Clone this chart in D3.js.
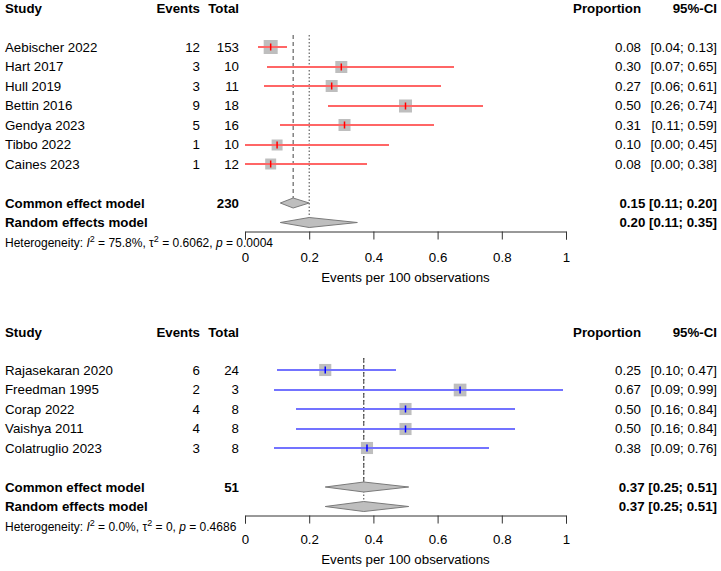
<!DOCTYPE html>
<html lang="en">
<head>
  <meta charset="UTF-8" />
  <title>Forest plots</title>
  <script src="https://d3js.org/d3.v7.min.js"></script>
  <style>
    html, body { margin: 0; padding: 0; background: #fff; }
    svg { display: block; font-family: "Liberation Sans", Arial, sans-serif; }
    .bold { font-weight: bold; }
    .axis text { font-size: 13.3px; fill: #000; font-family: "Liberation Sans", Arial, sans-serif; }
    .axis path, .axis line { stroke: #333; }
  </style>
</head>
<body>
  <svg id="chart" width="721" height="571"></svg>

  <script>
    // ---- top panel data ----
    const topStudies = ['Aebischer 2022', 'Hart 2017', 'Hull 2019', 'Bettin 2016', 'Gendya 2023', 'Tibbo 2022', 'Caines 2023'];
    const topEvents  = [12, 3, 3, 9, 5, 1, 1];
    const topTotals  = [153, 10, 11, 18, 16, 10, 12];
    const topProp    = [0.08, 0.30, 0.27, 0.50, 0.31, 0.10, 0.08];
    const topLower   = [0.04, 0.07, 0.06, 0.26, 0.11, 0.00, 0.00];
    const topUpper   = [0.13, 0.65, 0.61, 0.74, 0.59, 0.45, 0.38];
    const topWeights = [18.9, 13.9, 13.9, 16.3, 13.9, 11.6, 11.6];
    const topCommon  = [0.15, 0.11, 0.20];   // est, lower, upper
    const topRandom  = [0.20, 0.11, 0.35];
    const topN       = 230;
    const topHet     = ['75.8%', '0.6062', '0.0004'];  // I2, tau2, p

    // ---- bottom panel data ----
    const botStudies = ['Rajasekaran 2020', 'Freedman 1995', 'Corap 2022', 'Vaishya 2011', 'Colatruglio 2023'];
    const botEvents  = [6, 2, 4, 4, 3];
    const botTotals  = [24, 3, 8, 8, 8];
    const botProp    = [0.25, 0.67, 0.50, 0.50, 0.38];
    const botLower   = [0.10, 0.09, 0.16, 0.16, 0.09];
    const botUpper   = [0.47, 0.99, 0.84, 0.84, 0.76];
    const botWeights = [20, 22, 20, 20, 20];
    const botCommon  = [0.37, 0.25, 0.51];
    const botRandom  = [0.37, 0.25, 0.51];
    const botN       = 51;
    const botHet     = ['0.0%', '0', '0.4686'];

    const axisTicks = [0, 0.2, 0.4, 0.6, 0.8, 1];

    const svg = d3.select('#chart');
    const x = d3.scaleLinear().domain([0, 1]).range([245, 566]);
    const f2 = d3.format('.2f');
    const FS = 13.3;
    const col = { study: 5, events: 200, total: 239, prop: 641, ci: 717 };

    function txt(g, xx, yy, s, anchor, bold) {
      return g.append('text').attr('x', xx).attr('y', yy).attr('dy', '0.35em')
        .attr('font-size', FS).attr('text-anchor', anchor || 'start')
        .attr('class', bold ? 'bold' : null).text(s);
    }

    function diamond(g, est, y, h) {
      const [m, lo, hi] = est;
      g.append('path')
        .attr('d', `M${x(lo)},${y} L${x(m)},${y - h} L${x(hi)},${y} L${x(m)},${y + h} Z`)
        .attr('fill', '#bebebe').attr('stroke', '#7a7a7a').attr('stroke-width', 1);
    }

    function drawPanel(p) {
      const g = svg.append('g');
      const rowH = 19.5;
      const rowY = i => p.firstRow + i * rowH;
      const last = rowY(p.studies.length - 1);
      const commonY = last + 2 * rowH;
      const randomY = commonY + rowH;
      const axisY = randomY + 9;
      const lineTop = p.firstRow - 12;
      const box = d3.scaleSqrt().domain([0, d3.max(p.weights)]).range([0, p.maxBox]);

      // header
      txt(g, col.study, p.headerY, 'Study', 'start', true);
      txt(g, col.events, p.headerY, 'Events', 'end', true);
      txt(g, col.total, p.headerY, 'Total', 'end', true);
      txt(g, col.prop, p.headerY, 'Proportion', 'end', true);
      txt(g, col.ci, p.headerY, '95%-CI', 'end', true);

      // reference lines (common dashed, random dotted)
      g.append('line').attr('x1', x(p.common[0])).attr('x2', x(p.common[0]))
        .attr('y1', lineTop).attr('y2', commonY - 5)
        .attr('stroke', '#444').attr('stroke-dasharray', '4,3');
      g.append('line').attr('x1', x(p.random[0])).attr('x2', x(p.random[0]))
        .attr('y1', lineTop).attr('y2', randomY - 5)
        .attr('stroke', '#444').attr('stroke-dasharray', '1.5,2');

      // studies
      p.studies.forEach((s, i) => {
        const y = rowY(i);
        const yl = Math.round(y);   // whole pixel rows for the 2px CI line
        txt(g, col.study, y, s);
        txt(g, col.events, y, p.events[i], 'end');
        txt(g, col.total, y, p.totals[i], 'end');
        txt(g, col.prop, y, f2(p.prop[i]), 'end');
        txt(g, col.ci, y, `[${f2(p.lower[i])}; ${f2(p.upper[i])}]`, 'end');

        const b = box(p.weights[i]);
        g.append('rect').attr('x', x(p.prop[i]) - b / 2).attr('y', yl - b / 2)
          .attr('width', b).attr('height', b).attr('fill', '#bebebe');
        g.append('line').attr('x1', x(p.lower[i])).attr('x2', x(p.upper[i]))
          .attr('y1', yl).attr('y2', yl)
          .attr('stroke', p.lineColor).attr('stroke-width', 2)
          .attr('shape-rendering', 'crispEdges');
        g.append('line').attr('x1', x(p.prop[i])).attr('x2', x(p.prop[i]))
          .attr('y1', yl - 3.5).attr('y2', yl + 3.5)
          .attr('stroke', p.tickColor).attr('stroke-width', 1.5);
      });

      // summaries
      txt(g, col.study, commonY, 'Common effect model', 'start', true);
      txt(g, col.total, commonY, p.n, 'end', true);
      txt(g, col.ci, commonY, `${f2(p.common[0])} [${f2(p.common[1])}; ${f2(p.common[2])}]`, 'end', true);
      diamond(g, p.common, commonY, 5);

      txt(g, col.study, randomY, 'Random effects model', 'start', true);
      txt(g, col.ci, randomY, `${f2(p.random[0])} [${f2(p.random[1])}; ${f2(p.random[2])}]`, 'end', true);
      diamond(g, p.random, randomY, 5);

      // heterogeneity
      const h = g.append('text').attr('x', col.study).attr('y', axisY + p.hetOff)
        .attr('dy', '0.35em').attr('font-size', 12);
      h.append('tspan').text('Heterogeneity: ');
      h.append('tspan').attr('font-style', 'italic').text('I');
      h.append('tspan').attr('font-size', 9).attr('dy', -5).text('2');
      h.append('tspan').attr('dy', 5).text(` = ${p.het[0]}, τ`);
      h.append('tspan').attr('font-size', 9).attr('dy', -5).text('2');
      h.append('tspan').attr('dy', 5).text(` = ${p.het[1]}, `);
      h.append('tspan').attr('font-style', 'italic').text('p');
      h.append('tspan').text(` = ${p.het[2]}`);

      // axis
      g.append('g').attr('class', 'axis').attr('transform', `translate(0,${axisY})`)
        .call(d3.axisBottom(x).tickValues(axisTicks).tickFormat(d3.format('~g'))
          .tickSize(8).tickPadding(p.tickPad));
      g.append('text').attr('x', (x(0) + x(1)) / 2).attr('y', axisY + p.titleOff)
        .attr('dy', '0.35em').attr('font-size', FS).attr('text-anchor', 'middle')
        .text('Events per 100 observations');
    }

    drawPanel({
      studies: topStudies, events: topEvents, totals: topTotals, prop: topProp,
      lower: topLower, upper: topUpper, weights: topWeights,
      common: topCommon, random: topRandom, n: topN, het: topHet,
      headerY: 8, firstRow: 47, maxBox: 14, hetOff: 11.5, titleOff: 46, tickPad: 13,
      lineColor: '#ff6666', tickColor: '#ff0000'
    });

    drawPanel({
      studies: botStudies, events: botEvents, totals: botTotals, prop: botProp,
      lower: botLower, upper: botUpper, weights: botWeights,
      common: botCommon, random: botRandom, n: botN, het: botHet,
      headerY: 332, firstRow: 370, maxBox: 12.7, hetOff: 11, titleOff: 44, tickPad: 11,
      lineColor: '#7373ff', tickColor: '#0000ff'
    });
  </script>
</body>
</html>
